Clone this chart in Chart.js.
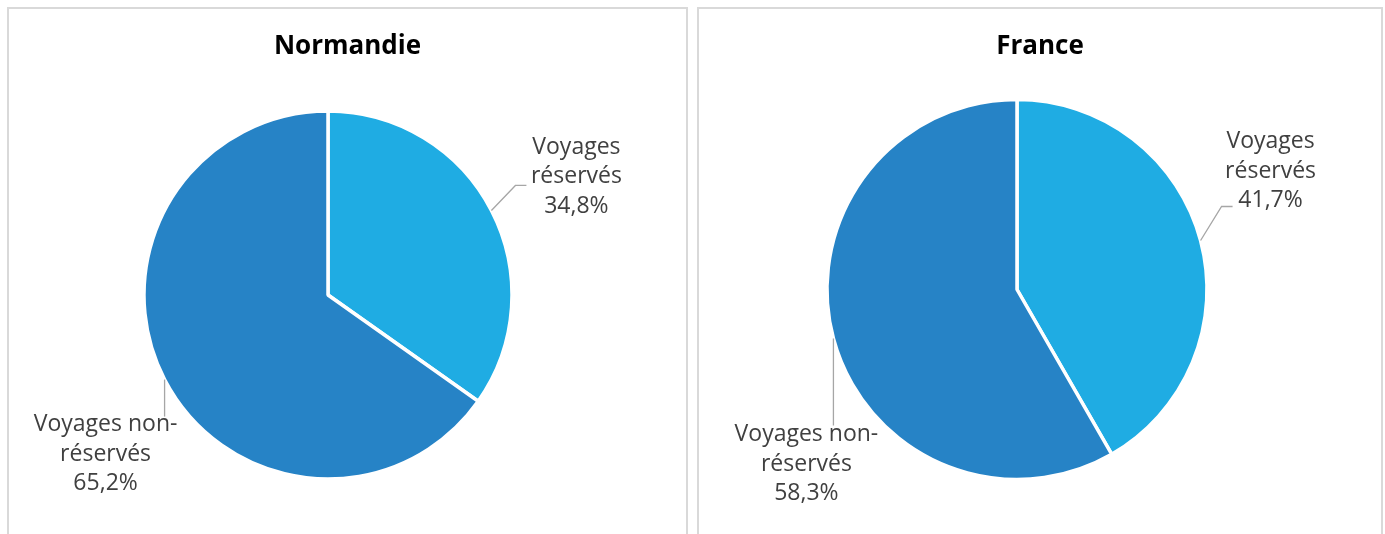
<!DOCTYPE html>
<html>
<head>
<meta charset="utf-8">
<script src="https://cdn.jsdelivr.net/npm/chart.js@4.4.1/dist/chart.umd.min.js"></script>
<style>
  body { margin: 0; background: #fff; width: 1385px; height: 534px; overflow: hidden; position: relative; }
  .panel { position: absolute; top: 7px; height: 540px; border: 2px solid #d9d9d9; box-sizing: border-box; }
  .panel canvas { position: absolute; left: 0; top: 0; }
</style>
</head>
<body>
<div class="panel" id="p1" style="left:7px;width:681px;"><canvas id="chartNormandie"></canvas></div>
<div class="panel" id="p2" style="left:697px;width:686px;"><canvas id="chartFrance"></canvas></div>
<script>
const CATEGORIES = ['Voyages réservés', 'Voyages non-réservés'];
const NORMANDIE_VALUES = [34.8, 65.2];
const FRANCE_VALUES = [41.7, 58.3];
const LABEL_LINES = [['Voyages', 'réservés'], ['Voyages non-', 'réservés']];
const COLORS = ['#1FACE3', '#2683C6'];

const fmt = v => v.toFixed(1).replace('.', ',') + '%';

// draws title + excel-like data labels with leader lines
const excelLabels = {
  id: 'excelLabels',
  afterDraw(chart, args, opts) {
    const ctx = chart.ctx;
    ctx.save();
    ctx.fillStyle = '#000';
    ctx.font = 'bold 26px "Open Sans"';
    ctx.textAlign = 'center';
    ctx.textBaseline = 'middle';
    ctx.fillText(opts.title, chart.width / 2 + opts.titleDx, opts.titleY);

    const meta = chart.getDatasetMeta(0);
    const values = chart.data.datasets[0].data;
    meta.data.forEach((arc, i) => {
      const mid = (arc.startAngle + arc.endAngle) / 2;
      const ex = arc.x + Math.cos(mid) * arc.outerRadius;
      const ey = arc.y + Math.sin(mid) * arc.outerRadius;
      const L = opts.labels[i];
      ctx.strokeStyle = '#a6a6a6';
      ctx.lineWidth = 1.3;
      ctx.beginPath();
      ctx.moveTo(ex, ey);
      L.leader.forEach(p => ctx.lineTo(ex + p[0], ey + p[1]));
      ctx.stroke();
      ctx.fillStyle = '#404040';
      ctx.font = '23px "Open Sans"';
      const lines = LABEL_LINES[i].concat([fmt(values[i])]);
      lines.forEach((t, k) => ctx.fillText(t, ex + L.dx, ey + L.dy + k * 29.5));
    });
    ctx.restore();
  }
};

function makePie(id, values, w, pad, radius, plug) {
  const canvas = document.getElementById(id);
  canvas.width = w; canvas.height = 525;
  canvas.style.width = w + 'px'; canvas.style.height = '525px';
  return new Chart(canvas, {
    type: 'pie',
    data: {
      labels: CATEGORIES,
      datasets: [{
        data: values,
        backgroundColor: COLORS,
        borderColor: '#ffffff',
        borderWidth: 3.5,
        radius: radius
      }]
    },
    options: {
      responsive: false,
      animation: false,
      layout: { padding: pad },
      plugins: {
        legend: { display: false },
        tooltip: { enabled: false },
        title: { display: false },
        excelLabels: plug
      }
    },
    plugins: [excelLabels]
  });
}

makePie('chartNormandie', NORMANDIE_VALUES, 677,
  { left: 0, right: 39, top: 102, bottom: 55 }, 184,
  {
    title: 'Normandie', titleDx: 0, titleY: 38,
    labels: [
      { dx: 85, dy: -63, leader: [[24, -25], [35, -25]] },
      { dx: -59, dy: 45, leader: [[0, 37]] }
    ]
  });

makePie('chartFrance', FRANCE_VALUES, 682,
  { left: 0, right: 46, top: 90, bottom: 54 }, 190,
  {
    title: 'France', titleDx: 0, titleY: 38,
    labels: [
      { dx: 70, dy: -99, leader: [[21, -34], [32, -34]] },
      { dx: -27, dy: 96, leader: [[0, 87]] }
    ]
  });
</script>
</body>
</html>
